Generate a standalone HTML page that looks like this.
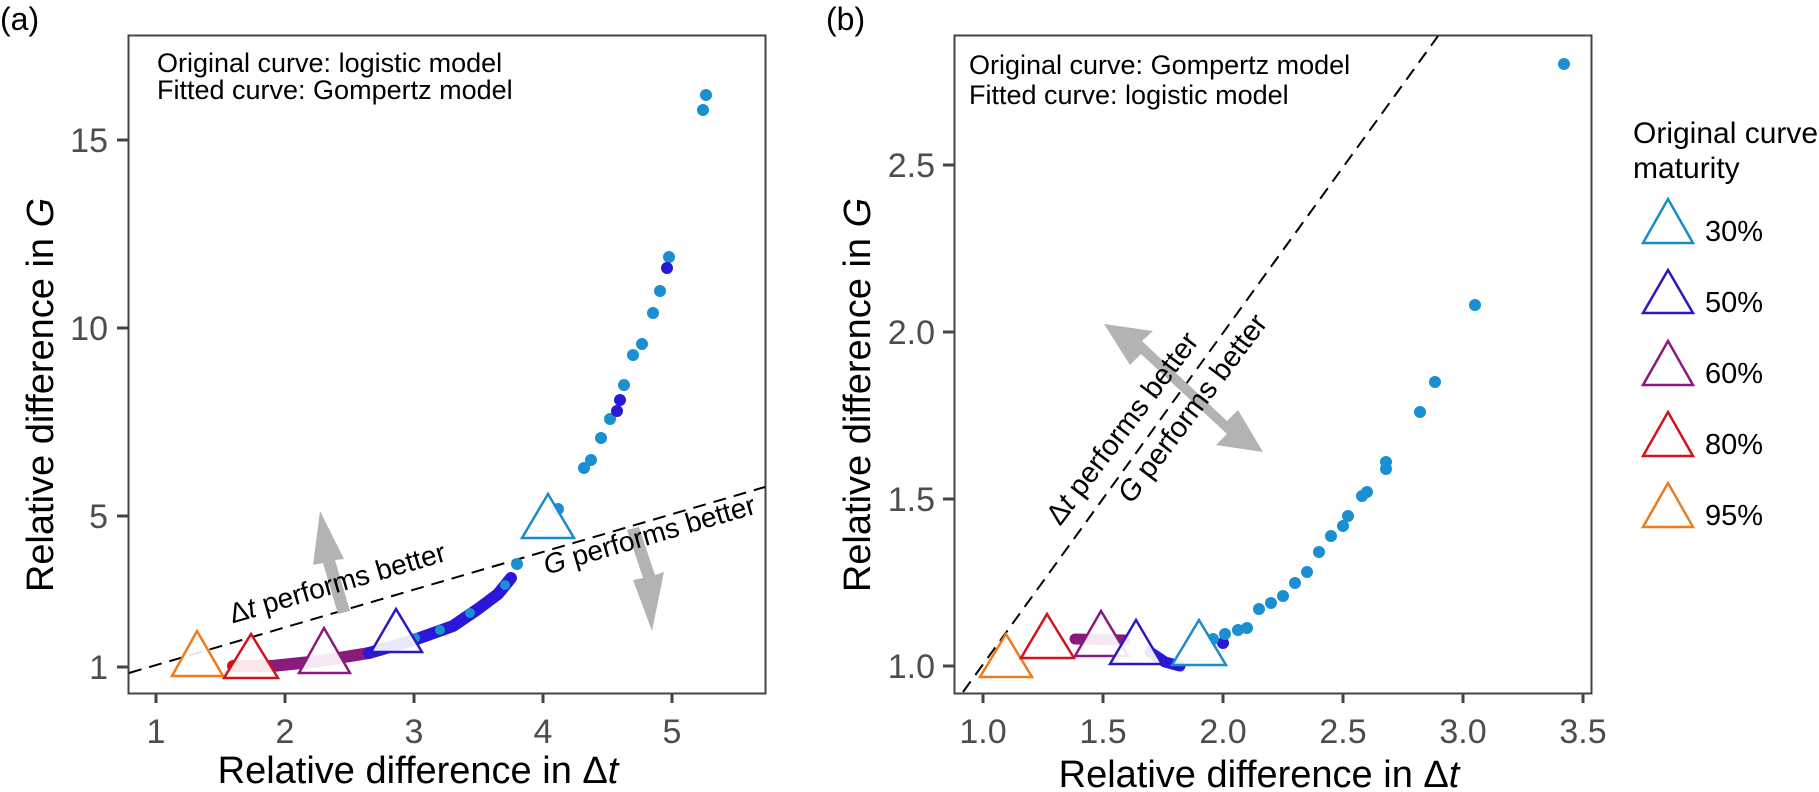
<!DOCTYPE html>
<html><head><meta charset="utf-8"><style>
html,body{margin:0;padding:0;background:#fff;}
svg{display:block;}
text{font-family:"Liberation Sans",Arial,sans-serif;}
</style></head><body>
<svg width="1819" height="792" viewBox="0 0 1819 792" xmlns="http://www.w3.org/2000/svg">
<rect width="1819" height="792" fill="#fff"/>

<!-- ===== Panel (a) ===== -->
<text x="0" y="30" font-size="32" fill="#000">(a)</text>
<rect x="128.5" y="35.5" width="637" height="658" fill="none" stroke="#444" stroke-width="2"/>
<g stroke="#444" stroke-width="3">
<line x1="156" y1="694" x2="156" y2="703"/><line x1="285" y1="694" x2="285" y2="703"/>
<line x1="414" y1="694" x2="414" y2="703"/><line x1="543" y1="694" x2="543" y2="703"/>
<line x1="672" y1="694" x2="672" y2="703"/>
<line x1="117" y1="667" x2="128" y2="667"/><line x1="117" y1="516" x2="128" y2="516"/>
<line x1="117" y1="328" x2="128" y2="328"/><line x1="117" y1="140" x2="128" y2="140"/>
</g>
<g font-size="34" fill="#4d4d4d" text-anchor="middle">
<text x="156" y="743">1</text><text x="285" y="743">2</text><text x="414" y="743">3</text>
<text x="543" y="743">4</text><text x="672" y="743">5</text>
</g>
<g font-size="34" fill="#4d4d4d" text-anchor="end">
<text x="108" y="679">1</text><text x="108" y="528">5</text><text x="108" y="340">10</text><text x="108" y="152">15</text>
</g>
<text x="418" y="783" font-size="38" text-anchor="middle">Relative difference in Δ<tspan font-style="italic">t</tspan></text>
<text transform="translate(53,395) rotate(-90)" font-size="38" text-anchor="middle">Relative difference in <tspan font-style="italic">G</tspan></text>
<text x="157" y="72" font-size="27">Original curve: logistic model</text>
<text x="157" y="99" font-size="27">Fitted curve: Gompertz model</text>

<line x1="129" y1="673" x2="765" y2="487" stroke="#000" stroke-width="2" stroke-dasharray="13,8"/>
<g fill="#b3b3b3">
<polygon points="320,511 344,559 335,560 350,611 338,614 323,563 313,565"/>
<polygon points="652,631 633,580 643,578 627,530 639,527 655,575 664,572"/>
</g>
<text transform="translate(340,592) rotate(-16.3)" font-size="28" text-anchor="middle">Δ<tspan font-style="italic">t</tspan> performs better</text>
<text transform="translate(652,544) rotate(-16.3)" font-size="28" text-anchor="middle"><tspan font-style="italic">G</tspan> performs better</text>

<g fill="none" stroke-linecap="round" stroke-linejoin="round" stroke-width="12">
<polyline points="233,666 272,666" stroke="#d4121c"/>
<polyline points="272,666 320,661 369,653" stroke="#8a1a7c"/>
<polyline points="369,653 414,640 453,626 478,609 498,594 511,578" stroke="#2a18d8"/>
</g>
<g fill="#1a8fd2">
<circle cx="415" cy="638" r="5"/><circle cx="440" cy="630" r="5"/><circle cx="470" cy="613" r="5"/><circle cx="505" cy="585" r="5"/>
<circle cx="517" cy="564" r="6"/><circle cx="558" cy="509" r="6"/><circle cx="584" cy="468" r="6"/><circle cx="591" cy="460" r="6"/>
<circle cx="601" cy="438" r="6"/><circle cx="610" cy="419" r="6"/><circle cx="624" cy="385" r="6"/><circle cx="633" cy="355" r="6"/>
<circle cx="642" cy="344" r="6"/><circle cx="653" cy="313" r="6"/><circle cx="660" cy="291" r="6"/><circle cx="669" cy="257" r="6"/>
<circle cx="703" cy="110" r="6"/><circle cx="706" cy="95" r="6"/>
</g>
<g fill="#2a18d8"><circle cx="617" cy="411" r="6"/><circle cx="620" cy="400" r="6"/><circle cx="667" cy="268" r="6"/></g>
<g fill="#fff" fill-opacity="0.9" stroke-width="2.5">
<polygon points="197,631 172,676 223,676" stroke="#f07b1c"/>
<polygon points="251,634 224,678 278,678" stroke="#d4121c"/>
<polygon points="324,628 299,673 350,673" stroke="#8a1a7c"/>
<polygon points="396,609 371,652 422,652" stroke="#2a18c8"/>
<polygon points="548,494 522,538 574,538" stroke="#1a8cc8"/>
</g>

<!-- ===== Panel (b) ===== -->
<text x="826" y="30" font-size="32" fill="#000">(b)</text>
<rect x="954.5" y="35.5" width="637" height="658" fill="none" stroke="#444" stroke-width="2"/>
<g stroke="#444" stroke-width="3">
<line x1="983" y1="694" x2="983" y2="703"/><line x1="1103" y1="694" x2="1103" y2="703"/>
<line x1="1223" y1="694" x2="1223" y2="703"/><line x1="1343" y1="694" x2="1343" y2="703"/>
<line x1="1463" y1="694" x2="1463" y2="703"/><line x1="1583" y1="694" x2="1583" y2="703"/>
<line x1="943" y1="666" x2="954" y2="666"/><line x1="943" y1="499" x2="954" y2="499"/>
<line x1="943" y1="332" x2="954" y2="332"/><line x1="943" y1="165" x2="954" y2="165"/>
</g>
<g font-size="34" fill="#4d4d4d" text-anchor="middle">
<text x="983" y="743">1.0</text><text x="1103" y="743">1.5</text><text x="1223" y="743">2.0</text>
<text x="1343" y="743">2.5</text><text x="1463" y="743">3.0</text><text x="1583" y="743">3.5</text>
</g>
<g font-size="34" fill="#4d4d4d" text-anchor="end">
<text x="935" y="678">1.0</text><text x="935" y="511">1.5</text><text x="935" y="344">2.0</text><text x="935" y="177">2.5</text>
</g>
<text x="1259" y="787" font-size="38" text-anchor="middle">Relative difference in Δ<tspan font-style="italic">t</tspan></text>
<text transform="translate(870,395) rotate(-90)" font-size="38" text-anchor="middle">Relative difference in <tspan font-style="italic">G</tspan></text>
<text x="969" y="74" font-size="27">Original curve: Gompertz model</text>
<text x="969" y="104" font-size="27">Fitted curve: logistic model</text>

<line x1="963" y1="692" x2="1438" y2="36" stroke="#000" stroke-width="2" stroke-dasharray="13,8"/>
<polygon fill="#b3b3b3" points="1104,324 1153,331 1142,341 1227,421 1238,410 1263,452 1216,445 1227,434 1141,354 1130,365"/>
<text transform="translate(1130,434) rotate(-53)" font-size="29" text-anchor="middle">Δ<tspan font-style="italic">t</tspan> performs better</text>
<text transform="translate(1200,414) rotate(-53)" font-size="29" text-anchor="middle"><tspan font-style="italic">G</tspan> performs better</text>

<g fill="none" stroke-linecap="round" stroke-width="11">
<polyline points="1075,639 1125,640" stroke="#8a1a7c"/>
<polyline points="1150,652 1165,662 1180,666" stroke="#2a18d8"/>
</g>
<circle cx="1223" cy="643" r="6" fill="#2a18d8"/>
<g fill="#1a8fd2">
<circle cx="1213" cy="639" r="6"/><circle cx="1225" cy="634" r="6"/><circle cx="1238" cy="630" r="6"/><circle cx="1247" cy="628" r="6"/>
<circle cx="1259" cy="609" r="6"/><circle cx="1271" cy="603" r="6"/><circle cx="1283" cy="596" r="6"/><circle cx="1295" cy="583" r="6"/>
<circle cx="1307" cy="572" r="6"/><circle cx="1319" cy="552" r="6"/><circle cx="1331" cy="536" r="6"/><circle cx="1343" cy="526" r="6"/>
<circle cx="1348" cy="516" r="6"/><circle cx="1362" cy="496" r="6"/><circle cx="1367" cy="492" r="6"/><circle cx="1386" cy="469" r="6"/>
<circle cx="1386" cy="462" r="6"/><circle cx="1420" cy="412" r="6"/><circle cx="1435" cy="382" r="6"/><circle cx="1475" cy="305" r="6"/>
<circle cx="1564" cy="64" r="6"/>
</g>
<g fill="#fff" fill-opacity="0.9" stroke-width="2.5">
<polygon points="1006,634 980,677 1032,677" stroke="#f07b1c"/>
<polygon points="1047,614 1021,658 1074,658" stroke="#d4121c"/>
<polygon points="1101,611 1075,656 1128,656" stroke="#8a1a7c"/>
<polygon points="1136,620 1110,664 1162,664" stroke="#2a18c8"/>
<polygon points="1199,620 1172,665 1226,665" stroke="#1a8cc8"/>
</g>

<!-- legend -->
<text x="1633" y="143" font-size="30">Original curve</text>
<text x="1633" y="178" font-size="30">maturity</text>
<g fill="none" stroke-width="2.5">
<polygon points="1668,199 1643,243 1693,243" stroke="#1a8cc8"/>
<polygon points="1668,270 1643,313 1693,313" stroke="#2a18c8"/>
<polygon points="1668,341 1643,385 1693,385" stroke="#8a1a7c"/>
<polygon points="1668,412 1643,456 1693,456" stroke="#d4121c"/>
<polygon points="1668,483 1643,527 1693,527" stroke="#f07b1c"/>
</g>
<g font-size="29">
<text x="1705" y="241">30%</text><text x="1705" y="312">50%</text><text x="1705" y="383">60%</text>
<text x="1705" y="454">80%</text><text x="1705" y="525">95%</text>
</g>
</svg>
</body></html>
